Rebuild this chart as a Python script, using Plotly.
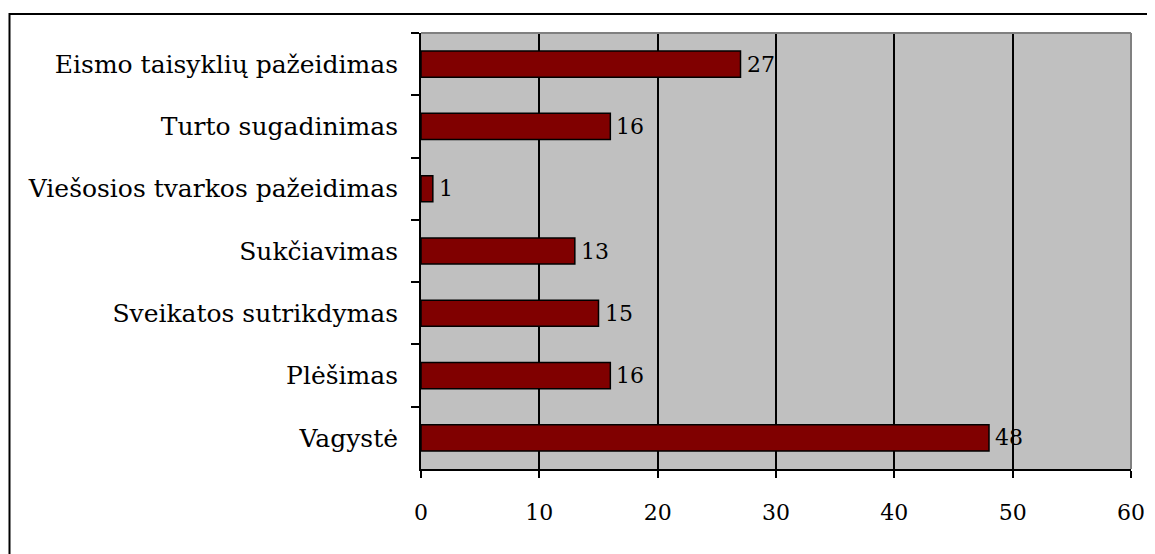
import plotly.graph_objects as go

categories = ["Eismo taisyklių pažeidimas", "Turto sugadinimas", "Viešosios tvarkos pažeidimas",
              "Sukčiavimas", "Sveikatos sutrikdymas", "Plėšimas", "Vagystė"]
values = [27, 16, 1, 13, 15, 16, 48]
x_ticks = [0, 10, 20, 30, 40, 50, 60]

W, H = 1155, 554
OFF = 8  # default page body margin
L, R, T, B = 421 - OFF, 1131 - OFF, 33 - OFF, 469 - OFF
FONT = "DejaVu Serif"
FS = 22
FS_CAT = 25

fig = go.Figure(go.Bar(
    x=values, y=categories, orientation="h", width=0.42,
    marker=dict(color="#800000", line=dict(color="black", width=1.5)),
))

for v, c in zip(values, categories):
    fig.add_annotation(x=v, y=c, xref="x", yref="y", text=str(v), showarrow=False,
                       xanchor="left", yanchor="middle", xshift=4,
                       font=dict(family=FONT, size=FS, color="black"))

pw, ph = R - L, B - T
def px(xp): return (xp - L) / pw
def py(yp): return (B - yp) / ph

fig.update_layout(
    width=W, height=H, margin=dict(l=L, r=W - R, t=T, b=H - B),
    paper_bgcolor="white", plot_bgcolor="#C0C0C0", showlegend=False,
    font=dict(family=FONT, size=FS, color="black"),
    xaxis=dict(range=[0, 60], tickvals=x_ticks, showgrid=True, gridcolor="black", gridwidth=1.5,
               zeroline=False, showline=True, linecolor="black", linewidth=2,
               ticks="outside", ticklen=7, tickcolor="black", tickwidth=2,
               ticklabelstandoff=16, tickfont=dict(family=FONT, size=FS)),
    yaxis=dict(autorange="reversed", showgrid=False, showline=True, linecolor="black", linewidth=2,
               ticks="outside", tickson="boundaries", ticklen=8, tickcolor="black", tickwidth=2,
               ticklabelstandoff=16, tickfont=dict(family=FONT, size=FS_CAT)),
    shapes=[
        dict(type="line", xref="paper", yref="paper", x0=0, x1=1, y0=1, y1=1,
             line=dict(color="#808080", width=2)),
        dict(type="line", xref="paper", yref="paper", x0=1, x1=1, y0=0, y1=1,
             line=dict(color="#808080", width=2)),
        dict(type="rect", xref="paper", yref="paper", x0=px(9.5 - OFF), x1=px(1170), y0=py(580),
             y1=py(14 - OFF), line=dict(color="black", width=2), fillcolor="rgba(0,0,0,0)"),
    ],
)

fig.write_html("out.html")
